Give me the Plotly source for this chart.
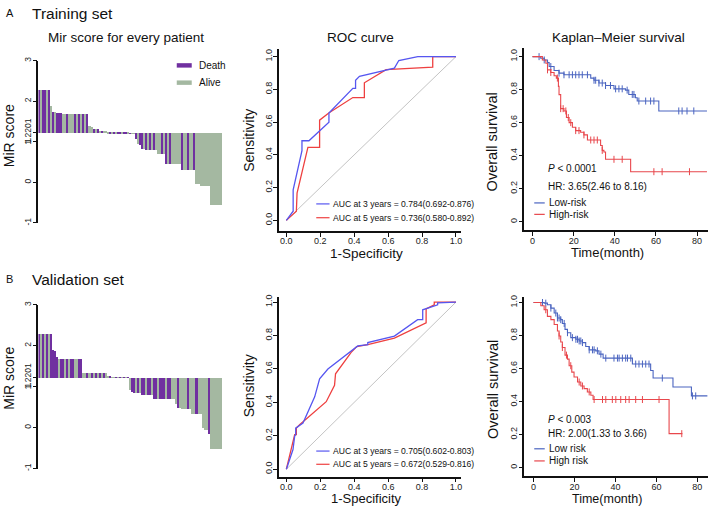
import plotly.graph_objects as go

W, H = 709, 509
FONT = 'Arial, Liberation Sans, sans-serif'
PURPLE = '#7030a0'
SAGE = '#a4b8a1'
ROC_BLUE = '#5656f0'
ROC_RED = '#ee4040'
KM_BLUE = '#4a64c0'
KM_RED = '#e8474c'

CUTOFF = 1.2201

# --- Mir score, training set (sorted, one bar per patient) ---
train_score = [2.28, 2.28, 2.28, 2.28, 2.28, 2.28, 1.88, 1.75, 1.74, 1.73,
               1.72, 1.72, 1.70, 1.70, 1.70, 1.70, 1.70, 1.70, 1.70, 1.70,
               1.70, 1.70, 1.70, 1.70, 1.70, 1.40, 1.37, 1.33, 1.33, 1.32,
               1.28, 1.28, 1.27, 1.27, 1.25, 1.25, 1.245, 1.24, 1.24, 1.24,
               1.235, 1.235, 1.232, 1.23, 1.225, 1.222, 1.221, 1.22, 1.08, 0.95,
               0.93, 0.84, 0.84, 0.81, 0.81, 0.81, 0.81, 0.81, 0.80, 0.71,
               0.71, 0.71, 0.71, 0.47, 0.47, 0.45, 0.45, 0.45, 0.45, 0.45,
               0.45, 0.32, 0.32, 0.32, 0.32, 0.32, 0.32, 0.32, -0.04, -0.04,
               -0.09, -0.09, -0.09, -0.09, -0.09, -0.55, -0.55, -0.55, -0.55, -0.55,
               -0.55]
train_status = ['D', 'A', 'D', 'D', 'A', 'D', 'A', 'D', 'A', 'D',
                'D', 'D', 'A', 'A', 'D', 'A', 'A', 'A', 'D', 'A',
                'D', 'A', 'D', 'A', 'D', 'A', 'A', 'D', 'A', 'D',
                'A', 'D', 'A', 'A', 'A', 'D', 'A', 'D', 'A', 'D',
                'D', 'A', 'D', 'D', 'A', 'D', 'A', 'A', 'D', 'A',
                'D', 'D', 'A', 'D', 'A', 'D', 'A', 'D', 'A', 'A',
                'A', 'D', 'A', 'D', 'A', 'D', 'A', 'A', 'A', 'A',
                'A', 'D', 'A', 'A', 'D', 'A', 'A', 'D', 'A', 'A',
                'A', 'A', 'A', 'A', 'A', 'A', 'A', 'A', 'A', 'A',
                'A']

# --- Mir score, validation set ---
valid_score = [2.28, 2.28, 2.28, 2.28, 2.28, 2.28, 2.28, 1.90, 1.88, 1.74,
               1.68, 1.68, 1.68, 1.68, 1.68, 1.68, 1.68, 1.68, 1.68, 1.68,
               1.68, 1.68, 1.35, 1.35, 1.35, 1.35, 1.35, 1.35, 1.35, 1.35,
               1.35, 1.35, 1.35, 1.35, 1.26, 1.25, 1.24, 1.24, 1.23, 1.23,
               1.23, 1.23, 1.228, 1.225, 1.222, 0.92, 0.88, 0.86, 0.86, 0.86,
               0.86, 0.81, 0.81, 0.81, 0.80, 0.80, 0.80, 0.71, 0.71, 0.71,
               0.71, 0.71, 0.71, 0.71, 0.71, 0.71, 0.71, 0.71, 0.57, 0.49,
               0.49, 0.47, 0.47, 0.47, 0.47, 0.47, 0.33, 0.33, 0.33, 0.33,
               0.33, -0.01, -0.05, -0.05, -0.16, -0.53, -0.53, -0.53, -0.53, -0.53,
               -0.53]
valid_status = ['D', 'A', 'D', 'A', 'D', 'A', 'D', 'D', 'D', 'D',
                'A', 'D', 'D', 'A', 'D', 'A', 'D', 'D', 'A', 'A',
                'D', 'D', 'A', 'A', 'D', 'A', 'D', 'A', 'D', 'A',
                'D', 'A', 'D', 'A', 'A', 'D', 'A', 'A', 'D', 'A',
                'D', 'A', 'D', 'A', 'D', 'A', 'D', 'D', 'A', 'D',
                'A', 'D', 'D', 'A', 'D', 'D', 'A', 'D', 'D', 'A',
                'D', 'D', 'D', 'A', 'D', 'D', 'A', 'A', 'A', 'D',
                'A', 'A', 'A', 'A', 'D', 'A', 'A', 'A', 'D', 'A',
                'A', 'A', 'A', 'A', 'D', 'A', 'A', 'A', 'A', 'A',
                'A']

# --- ROC curves (1-specificity, sensitivity) ---
roc_a3_fpr = [0, 0.04, 0.04, 0.092, 0.092, 0.133, 0.251, 0.251, 0.392, 0.408, 0.408, 0.431, 0.637, 0.663, 0.775, 1.0]
roc_a3_tpr = [0, 0.056, 0.186, 0.426, 0.486, 0.486, 0.60, 0.656, 0.806, 0.806, 0.856, 0.88, 0.93, 0.976, 1.0, 1.0]
roc_a5_fpr = [0, 0.059, 0.063, 0.127, 0.196, 0.196, 0.25, 0.392, 0.46, 0.46, 0.588, 0.863, 0.863, 1.0]
roc_a5_tpr = [0, 0.056, 0.166, 0.446, 0.446, 0.612, 0.656, 0.75, 0.75, 0.84, 0.92, 0.936, 1.0, 1.0]
roc_b3_fpr = [0, 0.039, 0.049, 0.055, 0.055, 0.098, 0.167, 0.196, 0.245, 0.421, 0.48, 0.48, 0.637, 0.774, 0.804, 0.804, 0.892, 0.892, 1.0]
roc_b3_tpr = [0, 0.118, 0.197, 0.207, 0.246, 0.276, 0.433, 0.541, 0.600, 0.738, 0.745, 0.758, 0.797, 0.895, 0.895, 0.954, 0.984, 0.995, 1.0]
roc_b5_fpr = [0, 0.049, 0.059, 0.059, 0.078, 0.235, 0.284, 0.29, 0.382, 0.415, 0.48, 0.637, 0.824, 0.824, 0.872, 0.872, 1.0]
roc_b5_tpr = [0, 0.207, 0.207, 0.246, 0.266, 0.404, 0.502, 0.571, 0.699, 0.734, 0.746, 0.785, 0.876, 0.959, 0.984, 1.0, 1.0]
auc_labels_a = ['AUC at 3 years = 0.784(0.692-0.876)', 'AUC at 5 years = 0.736(0.580-0.892)']
auc_labels_b = ['AUC at 3 years = 0.705(0.602-0.803)', 'AUC at 5 years = 0.672(0.529-0.816)']

# --- Kaplan-Meier, training ---
km_a_low_t = [0, 4, 5.7, 7.3, 8.1, 10.5, 12.9, 15.3, 28.3, 29.9, 32.3, 35.5, 39.6, 45.2, 46.8, 50, 50.9, 61.4, 84.8]
km_a_low_s = [1.0, 0.99, 0.98, 0.964, 0.94, 0.916, 0.90, 0.89, 0.87, 0.857, 0.84, 0.825, 0.805, 0.797, 0.771, 0.751, 0.731, 0.671, 0.671]
km_a_low_cens = [3.2, 5.7, 8.9, 12.9, 15.3, 17.8, 19.4, 21, 22.6, 24.2, 26.7, 29.9, 30.7, 32.3, 33.9, 35.5,
                 37.9, 40.4, 42, 43.6, 46, 48.5, 49.3, 51.7, 55, 57.4, 59, 71.1, 72.7, 75.1, 78.4]
km_a_high_t = [0, 4.8, 6.5, 7.3, 8.9, 10.5, 11.6, 12.6, 12.9, 13.7, 15.3, 16.5, 17.8, 19.4, 21, 23.4, 25, 26.7,
               33.1, 33.9, 34.7, 35.5, 47.7, 84.8]
km_a_high_s = [1.0, 0.98, 0.96, 0.92, 0.904, 0.884, 0.87, 0.82, 0.77, 0.685, 0.671, 0.631, 0.60, 0.572, 0.552,
               0.542, 0.526, 0.495, 0.462, 0.432, 0.422, 0.378, 0.303, 0.303]
km_a_high_cens = [7.3, 8.9, 12.1, 13.7, 14.9, 16.2, 17.4, 18.6, 21, 22.6, 25, 28.3, 29.9, 31.5, 33.9, 39.6,
                  43.6, 59, 63, 76.3]

# --- Kaplan-Meier, validation ---
km_b_low_t = [0, 5.2, 6.8, 8.5, 10.1, 11.7, 13.3, 14.1, 15.4, 16.6, 18.2, 20.7, 22.3, 23.9, 25.5, 27.2, 30.4,
              32, 34, 48.3, 57.2, 58.4, 68.1, 77.1, 84.9]
km_b_low_s = [1.0, 0.996, 0.986, 0.966, 0.936, 0.906, 0.896, 0.873, 0.837, 0.817, 0.787, 0.777, 0.767, 0.757,
              0.733, 0.713, 0.707, 0.687, 0.663, 0.627, 0.588, 0.542, 0.488, 0.434, 0.434]
km_b_low_cens = [4.4, 6, 8.5, 10.9, 11.7, 12.5, 13.3, 15, 16.6, 19, 20.7, 21.5, 22.3, 23.1, 23.9, 27.2, 28.8,
                 29.6, 31.2, 32.9, 35.3, 39.3, 41, 41.8, 43.4, 45, 45.9, 47.5, 49.9, 51.5, 53.2, 54.8, 56.4,
                 62.9, 77.6, 79.2]
km_b_high_t = [0, 3.6, 5.2, 6.8, 8.5, 10.1, 11.7, 12.5, 13.3, 14.1, 15.4, 16.6, 17.4, 18.7, 19.8, 21.5, 23.1,
               24.7, 26.3, 28, 29.1, 66.2, 72.7]
km_b_high_s = [1.0, 0.98, 0.956, 0.916, 0.896, 0.867, 0.827, 0.797, 0.761, 0.727, 0.681, 0.657, 0.617, 0.578,
               0.548, 0.518, 0.494, 0.478, 0.458, 0.438, 0.412, 0.205, 0.205]
km_b_high_cens = [6, 12.5, 14.1, 16.1, 18.2, 22.3, 23.9, 27.2, 29.6, 33.7, 35.3, 38.5, 40.2, 42.6, 45, 46.7,
                  49.9, 53.2, 61.3, 72.4]


def px(x):
    return x / W


def py(y):
    return 1 - y / H


def dx(a, b):
    return [a / W, b / W]


def dy(top, bottom):
    return [1 - bottom / H, 1 - top / H]


def surv_at(t, times, surv):
    val = surv[0]
    for ti, si in zip(times, surv):
        if ti <= t:
            val = si
    return val


fig = go.Figure()

# --- bar panels ---
for score, status, ax in [(train_score, train_status, ''), (valid_score, valid_status, '4')]:
    for code, color, name in [('D', PURPLE, 'Death'), ('A', SAGE, 'Alive')]:
        idx = [i for i, s in enumerate(status) if s == code]
        fig.add_trace(go.Bar(
            x=idx, y=[score[i] - CUTOFF for i in idx], base=CUTOFF, width=1,
            marker=dict(color=color, line=dict(width=0)), showlegend=False,
            xaxis='x' + ax, yaxis='y' + ax, name=name,
        ))

# --- ROC panels ---
for ax, f3, t3, f5, t5 in [('2', roc_a3_fpr, roc_a3_tpr, roc_a5_fpr, roc_a5_tpr),
                           ('5', roc_b3_fpr, roc_b3_tpr, roc_b5_fpr, roc_b5_tpr)]:
    fig.add_trace(go.Scatter(x=[0, 1], y=[0, 1], mode='lines', line=dict(color='#c4c4c4', width=1),
                             showlegend=False, xaxis='x' + ax, yaxis='y' + ax))
    fig.add_trace(go.Scatter(x=f5, y=t5, mode='lines', line=dict(color=ROC_RED, width=1.3),
                             showlegend=False, xaxis='x' + ax, yaxis='y' + ax))
    fig.add_trace(go.Scatter(x=f3, y=t3, mode='lines', line=dict(color=ROC_BLUE, width=1.3),
                             showlegend=False, xaxis='x' + ax, yaxis='y' + ax))

# --- KM panels ---
for ax, curves in [('3', [(km_a_low_t, km_a_low_s, km_a_low_cens, KM_BLUE),
                          (km_a_high_t, km_a_high_s, km_a_high_cens, KM_RED)]),
                   ('6', [(km_b_low_t, km_b_low_s, km_b_low_cens, KM_BLUE),
                          (km_b_high_t, km_b_high_s, km_b_high_cens, KM_RED)])]:
    for times, surv, cens, color in curves:
        fig.add_trace(go.Scatter(x=times, y=surv, mode='lines', line=dict(color=color, width=1.1, shape='hv'),
                                 showlegend=False, xaxis='x' + ax, yaxis='y' + ax))
        fig.add_trace(go.Scatter(x=cens, y=[surv_at(c, times, surv) for c in cens], mode='markers',
                                 marker=dict(symbol='line-ns', size=5, line=dict(color=color, width=1)),
                                 showlegend=False, xaxis='x' + ax, yaxis='y' + ax))

tickfont = dict(family=FONT, size=9, color='#222')
common = dict(showgrid=False, zeroline=False, showline=True, linecolor='#111', linewidth=1.5,
              ticks='outside', ticklen=4, tickwidth=1, tickcolor='#111', tickfont=tickfont, fixedrange=True)
xcommon = dict(common, ticklabelstandoff=-3)
ycommon = dict(common, ticklabelstandoff=-2, tickangle=-90)
bar_y = dict(ycommon, range=[-1, 3], tickvals=[-1, 0, 1, CUTOFF, 2, 3],
             ticktext=['-1', '0', '1', '1.2201', '2', '3'], tickfont=dict(tickfont, size=8.5))
roc_ticks = [0, 0.2, 0.4, 0.6, 0.8, 1.0]
roc_text = ['0.0', '0.2', '0.4', '0.6', '0.8', '1.0']
km_ytext = ['0', '0.2', '0.4', '0.6', '0.8', '1.0']

fig.update_layout(
    width=W, height=H, margin=dict(l=0, r=0, t=0, b=0),
    paper_bgcolor='white', plot_bgcolor='white', barmode='overlay', bargap=0,
    font=dict(family=FONT, color='#111'),
    xaxis=dict(domain=dx(38.5, 222.5), range=[-0.5, len(train_score) - 0.5], visible=False, anchor='y'),
    yaxis=dict(bar_y, domain=dy(57.5, 222), anchor='x'),
    xaxis4=dict(domain=dx(38.5, 222.5), range=[-0.5, len(valid_score) - 0.5], visible=False, anchor='y4'),
    yaxis4=dict(bar_y, domain=dy(305, 471), anchor='x4'),
    xaxis2=dict(xcommon, domain=dx(279.3, 461.7), range=[-0.044, 1.03], tickvals=roc_ticks, ticktext=roc_text, anchor='y2'),
    yaxis2=dict(ycommon, domain=dy(45.7, 230), range=[-0.064, 1.046], tickvals=roc_ticks, ticktext=roc_text, anchor='x2'),
    xaxis5=dict(xcommon, domain=dx(279.3, 461.7), range=[-0.044, 1.03], tickvals=roc_ticks, ticktext=roc_text, anchor='y5'),
    yaxis5=dict(ycommon, domain=dy(296.7, 479.3), range=[-0.045, 1.033], tickvals=roc_ticks, ticktext=roc_text, anchor='x5'),
    xaxis3=dict(xcommon, domain=dx(525, 709), range=[-4.0, 85.3], tickvals=[0, 20, 40, 60, 80], anchor='y3'),
    yaxis3=dict(ycommon, domain=dy(45, 229.3), range=[-0.051, 1.05], tickvals=roc_ticks, ticktext=km_ytext, anchor='x3'),
    xaxis6=dict(xcommon, domain=dx(525, 709), range=[-4.5, 85.2], tickvals=[0, 20, 40, 60, 80], anchor='y6'),
    yaxis6=dict(ycommon, domain=dy(297.3, 479), range=[-0.054, 1.032], tickvals=roc_ticks, ticktext=km_ytext, anchor='x6'),
)

annotations = []
shapes = []


def text(s, x, y, size, anchor='center', angle=0, color='#111'):
    annotations.append(dict(text=s, x=px(x), y=py(y), xref='paper', yref='paper', showarrow=False,
                            xanchor=anchor, yanchor='middle', textangle=angle,
                            font=dict(family=FONT, size=size, color=color)))


def key(x0, x1, y0, y1, color, kind='rect'):
    if kind == 'rect':
        shapes.append(dict(type='rect', xref='paper', yref='paper', x0=px(x0), x1=px(x1),
                           y0=py(y1), y1=py(y0), fillcolor=color, line=dict(width=0)))
    else:
        shapes.append(dict(type='line', xref='paper', yref='paper', x0=px(x0), x1=px(x1),
                           y0=py(y0), y1=py(y0), line=dict(color=color, width=1.2)))


# section headers
text('A', 10, 9, 11)
text('Training set', 30, 9.5, 15.5, 'left')
text('B', 10, 278.5, 11)
text('Validation set', 30, 279, 15.5, 'left')

# panel titles
text('Mir score for every patient', 126, 34, 13.5)
text('ROC curve', 361, 34, 13.5)
text('Kaplan\u2013Meier survival', 619, 34, 13.5)

# axis titles
text('MiR score', 9, 133, 14, angle=-90)
text('MiR score', 9, 379, 14, angle=-90)
text('Sensitivity', 249, 138, 14, angle=-90)
text('Sensitivity', 249, 387, 14, angle=-90)
text('1-Specificity', 367, 252.5, 13.5)
text('1-Specificity', 367, 501, 13)
text('Overall survival', 493, 140, 14.5, angle=-90)
text('Overall survival', 493, 391, 14.5, angle=-90)
text('Time(month)', 608, 251.5, 13)
text('Time(month)', 608, 501.5, 12.5)

# bar legend (training only)
key(177, 192, 60, 64.5, PURPLE)
text('Death', 197, 62, 10, 'left')
key(177, 192, 77.5, 82, SAGE)
text('Alive', 197, 80, 10, 'left')

# ROC legends
for labels, ya, yb in [(auc_labels_a, 202.7, 216.7), (auc_labels_b, 453.3, 466.7)]:
    key(316.7, 330, ya, ya, ROC_BLUE, 'line')
    text(labels[0], 331.5, ya, 8.6, 'left')
    key(316.7, 330, yb, yb, ROC_RED, 'line')
    text(labels[1], 331.5, yb, 8.6, 'left')

# KM annotations
for pval, hr, names, yp, yh, yl, yr in [
        ('<i>P</i> < 0.0001', 'HR: 3.65(2.46 to 8.16)', ('Low-risk', 'High-risk'), 166.7, 185, 201.7, 213.3),
        ('<i>P</i> < 0.003', 'HR: 2.00(1.33 to 3.66)', ('Low risk', 'High risk'), 421.7, 435, 451, 463.3)]:
    text(pval, 546.7, yp, 10, 'left')
    text(hr, 546.7, yh, 10, 'left')
    key(535, 545.5, yl, yl, KM_BLUE, 'line')
    text(names[0], 548, yl, 10, 'left')
    key(535, 545.5, yr, yr, KM_RED, 'line')
    text(names[1], 548, yr, 10, 'left')

fig.update_layout(annotations=annotations, shapes=shapes)
fig.write_html('out.html', config={'displayModeBar': False},
               post_script="document.body.style.margin='0';document.body.style.overflow='hidden';")
